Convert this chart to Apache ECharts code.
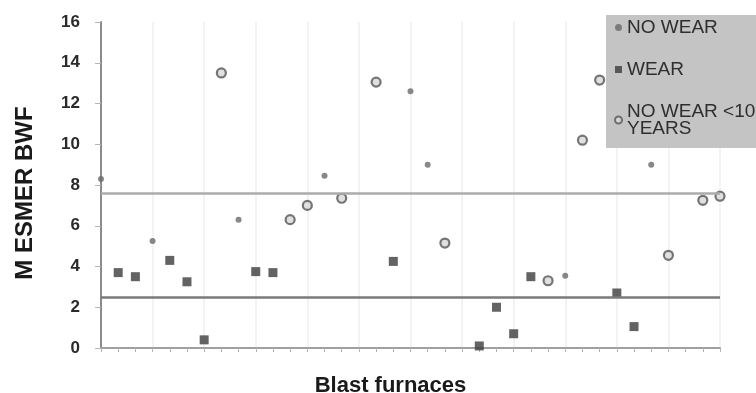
<!DOCTYPE html>
<html>
<head>
<meta charset="utf-8">
<script src="https://cdn.jsdelivr.net/npm/echarts@6/dist/echarts.min.js"></script>
<style>
  html, body { margin: 0; padding: 0; background: #fff; }
  #chart { width: 756px; height: 393px; }
</style>
</head>
<body>
<div id="chart"></div>
<script>
// Blast furnace index (labels are not shown on the axis)
const furnaces = ['1','2','3','4','5','6','7','8','9','10','11','12','13','14','15','16','17','18','19',
                  '20','21','22','23','24','25','26','27','28','29','30','31','32','33','34','35','36','37'];

// M ESMER BWF per furnace, one array per group (null = furnace not in the group)
const noWear = [8.3, null, null, 5.25, null, null, null, null, 6.3, null, null, null, null, 8.45, null, null, null, null, 12.6,
                9.0, null, null, null, null, null, null, null, 3.55, null, null, null, null, 9.0, null, null, null, null];
const wear = [null, 3.7, 3.5, null, 4.3, 3.25, 0.4, null, null, 3.75, 3.7, null, null, null, null, null, null, 4.25, null,
              null, null, null, 0.1, 2.0, 0.7, 3.5, null, null, null, null, 2.7, 1.05, null, null, null, null, null];
const noWearUnder10 = [null, null, null, null, null, null, null, 13.5, null, null, null, 6.3, 7.0, null, 7.35, null, 13.05, null, null,
                       null, 5.15, null, null, null, null, null, 3.3, null, 10.2, 13.15, null, null, null, 4.55, null, 7.25, 7.45];

// Reference levels drawn across the plot
const upperLevel = 7.6;
const lowerLevel = 2.5;

const seriesNames = ['NO WEAR', 'WEAR', 'NO WEAR <10 YEARS'];

const toData = arr => arr.map(v => (v === null ? '-' : v));

const chart = echarts.init(document.getElementById('chart'), null, { renderer: 'canvas' });

chart.setOption({
  animation: false,
  backgroundColor: '#ffffff',
  grid: { left: 101, right: 36, top: 22, bottom: 45, containLabel: false, outerBoundsMode: 'none' },
  legend: {
    orient: 'vertical',
    left: 606,
    top: 15,
    backgroundColor: '#c4c4c4',
    padding: [3, 60, 10, 8],
    itemGap: 23,
    itemWidth: 7,
    itemHeight: 7,
    data: seriesNames,
    formatter: name => (name === 'NO WEAR <10 YEARS' ? 'NO WEAR <10\nYEARS' : name),
    textStyle: {
      fontFamily: 'Liberation Sans, Arial, sans-serif',
      fontSize: 19,
      lineHeight: 17,
      color: '#2e2e2e'
    }
  },
  xAxis: {
    type: 'category',
    data: furnaces,
    boundaryGap: false,
    name: 'Blast furnaces',
    nameLocation: 'middle',
    nameGap: 27,
    nameTextStyle: {
      fontFamily: 'Liberation Sans, Arial, sans-serif',
      fontWeight: 'bold',
      fontSize: 22,
      color: '#1a1a1a',
      padding: [0, 40, 0, 0]
    },
    axisLine: { lineStyle: { color: '#a0a0a0', width: 2 } },
    axisTick: { show: true, interval: 0, length: 4, inside: false, lineStyle: { color: '#b4b4b4', width: 1 } },
    axisLabel: { show: false },
    splitLine: {
      show: true,
      interval: idx => idx > 0 && idx % 3 === 0,
      lineStyle: { color: '#efefef', width: 1.5 }
    }
  },
  yAxis: {
    type: 'value',
    min: 0,
    max: 16,
    interval: 2,
    name: 'M ESMER BWF',
    nameLocation: 'middle',
    nameGap: 64,
    nameTextStyle: {
      fontFamily: 'Liberation Sans, Arial, sans-serif',
      fontWeight: 'bold',
      fontSize: 24,
      color: '#1a1a1a',
      padding: [0, 16, 0, 0]
    },
    axisLine: { show: true, lineStyle: { color: '#8a8a8a', width: 2 } },
    axisTick: { show: true, length: 6, lineStyle: { color: '#b4b4b4', width: 1 } },
    axisLabel: {
      margin: 21,
      fontFamily: 'Liberation Sans, Arial, sans-serif',
      fontWeight: 'bold',
      fontSize: 17,
      color: '#2a2a2a'
    },
    splitLine: { show: false }
  },
  series: [
    {
      name: 'NO WEAR',
      type: 'scatter',
      symbol: 'circle',
      symbolSize: 6,
      itemStyle: { color: '#6a6a6a' },
      data: toData(noWear),
      z: 3
    },
    {
      name: 'WEAR',
      type: 'scatter',
      symbol: 'rect',
      symbolSize: 9,
      itemStyle: { color: '#3c3c3c' },
      data: toData(wear),
      z: 3,
      markLine: {
        silent: true,
        symbol: 'none',
        label: { show: false },
        data: [
          { yAxis: upperLevel, lineStyle: { color: '#ababab', width: 2.5, type: 'solid' } },
          { yAxis: lowerLevel, lineStyle: { color: '#7a7a7a', width: 2.5, type: 'solid' } }
        ]
      }
    },
    {
      name: 'NO WEAR <10 YEARS',
      type: 'scatter',
      symbol: 'circle',
      symbolSize: 9,
      itemStyle: { color: '#d8d8d8', borderColor: '#555555', borderWidth: 2.2 },
      data: toData(noWearUnder10),
      z: 3
    }
  ]
});
</script>
</body>
</html>
